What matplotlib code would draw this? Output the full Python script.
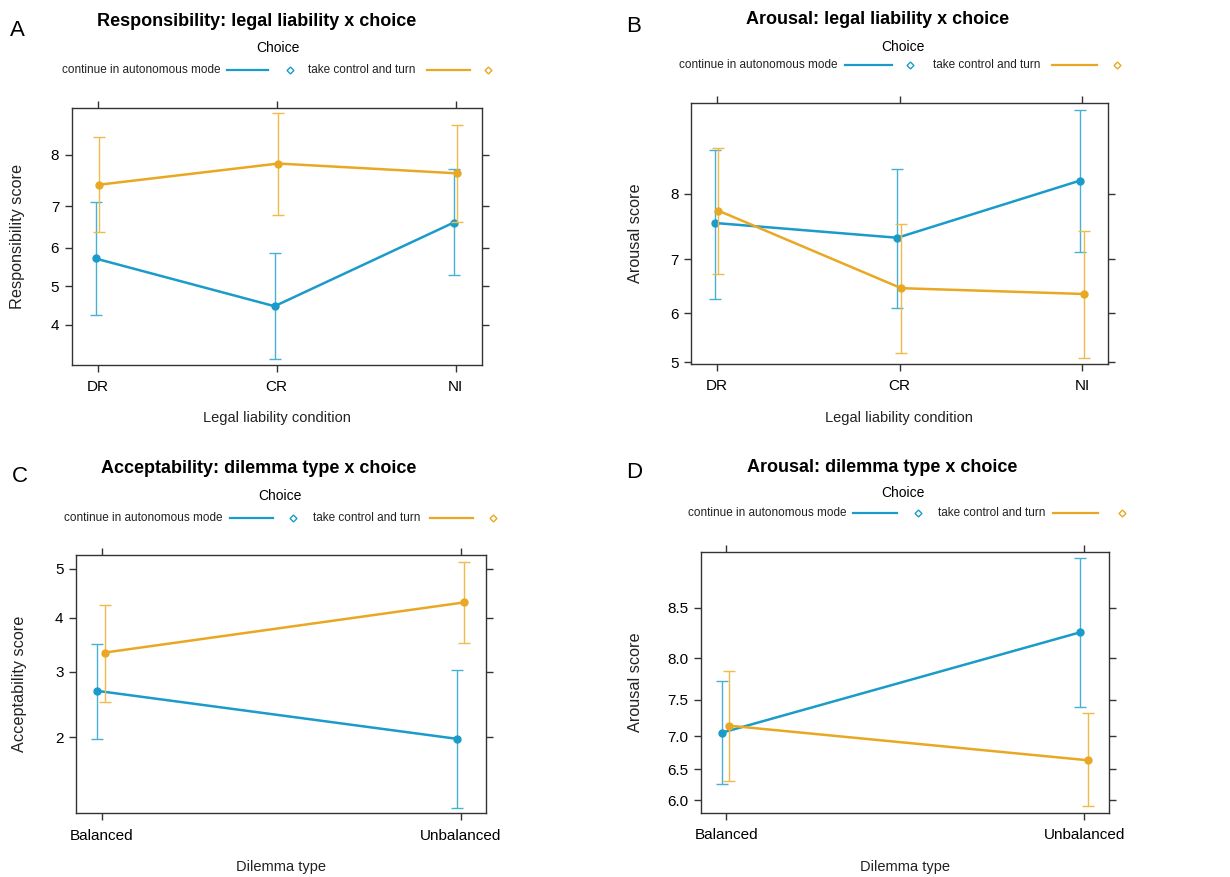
import numpy as np
import matplotlib
matplotlib.use("Agg")
import matplotlib.pyplot as plt
from matplotlib.lines import Line2D

plt.rcParams['font.family'] = ['Liberation Sans', 'DejaVu Sans']

W, H = 1230, 877

choices = ["continue in autonomous mode", "take control and turn"]
liability = ["DR", "CR", "NI"]
dilemma = ["Balanced", "Unbalanced"]

# A: responsibility by legal liability
resp_auto = [5.73, 4.48, 6.62]
resp_auto_lo = [4.26, 3.18, 5.31]
resp_auto_hi = [7.08, 5.86, 7.75]
resp_take = [7.45, 7.85, 7.67]
resp_take_lo = [6.40, 6.79, 6.64]
resp_take_hi = [8.28, 8.61, 8.46]

# B: arousal by legal liability
arl_auto = [7.59, 7.36, 8.17]
arl_auto_lo = [6.27, 6.09, 7.13]
arl_auto_hi = [8.52, 8.31, 8.89]
arl_take = [7.77, 6.48, 6.37]
arl_take_lo = [6.75, 5.20, 5.09]
arl_take_hi = [8.54, 7.58, 7.47]

# C: acceptability by dilemma type
acc_auto = [2.68, 1.98]
acc_auto_lo = [1.98, 1.23]
acc_auto_hi = [3.50, 3.03]
acc_take = [3.34, 4.31]
acc_take_lo = [2.50, 3.52]
acc_take_hi = [4.26, 5.14]

# D: arousal by dilemma type
ard_auto = [7.05, 8.27]
ard_auto_lo = [6.26, 7.40]
ard_auto_hi = [7.73, 8.89]
ard_take = [7.15, 6.64]
ard_take_lo = [6.31, 5.91]
ard_take_hi = [7.85, 7.32]

BLUE = '#1b9bc9'
ORANGE = '#e9a823'
BLUE_BAR = '#4aafd4'
ORANGE_BAR = '#efbc4c'
AX_COL = '#333333'


# effects-style logit axis on a 0-10 response
def fwd(y):
    y = np.clip(np.asarray(y, dtype=float), 1e-6, 10 - 1e-6)
    return np.log(y / (10 - y))


def inv(t):
    return 10 / (1 + np.exp(-np.asarray(t, dtype=float)))


def fpos(x, y):
    return x / W, 1 - y / H


def draw_panel(ax, cats, series, ylim, yticks, ylabels, xlim, ylabel, xlabel, ylab_x, xlab_y, box):
    x = np.arange(1, len(cats) + 1)
    for (mean, lo, hi), col, bcol, dx in zip(series, [BLUE, ORANGE], [BLUE_BAR, ORANGE_BAR], [-0.012, 0.009]):
        xs = x + dx
        err = [np.subtract(mean, lo), np.subtract(hi, mean)]
        ax.errorbar(xs, mean, yerr=err, fmt='none', ecolor=bcol, elinewidth=1.0,
                    capsize=4, capthick=1.0)
        ax.plot(xs, mean, color=col, lw=1.8, marker='o', ms=5, mfc=col, mec=col)
    ax.set_yscale('function', functions=(fwd, inv))
    ax.set_ylim(*ylim)
    ax.set_xlim(*xlim)
    ax.set_yticks(yticks)
    ax.set_yticklabels(ylabels)
    ax.set_xticks(x)
    ax.set_xticklabels(cats)
    ax.minorticks_off()
    ax.tick_params(axis='both', direction='out', length=5, width=1, color=AX_COL,
                   labelsize=11, top=True, right=True, labeltop=False, labelright=False)
    ax.tick_params(axis='y', pad=4)
    ax.tick_params(axis='x', pad=6)
    for s in ax.spines.values():
        s.set_color(AX_COL)
        s.set_linewidth(1)
    left, top, right, bottom = box
    ax.set_ylabel(ylabel, fontsize=11.7, color='#222222')
    ax.set_xlabel(xlabel, fontsize=10.5, color='#222222')
    ax.yaxis.set_label_coords((ylab_x - left) / (right - left), 0.5)
    ax.xaxis.set_label_coords(0.5, (bottom - xlab_y) / (bottom - top))
    ax.yaxis.label.set_va('center')
    ax.xaxis.label.set_va('center')


def header(fig, letter, lpos, title, tpos, cpos, ly, items):
    fig.text(*fpos(*lpos), letter, fontsize=16, ha='center', va='center')
    fig.text(*fpos(*tpos), title, fontsize=13, weight='bold', ha='center', va='center')
    fig.text(*fpos(*cpos), 'Choice', fontsize=10, ha='center', va='center')
    yy = 1 - ly / H
    for label, (tx, x0, x1, mx), col in zip(choices, items, [BLUE, ORANGE]):
        fig.text(tx / W, yy, label, fontsize=8.5, ha='right', va='center', color='#222222')
        fig.add_artist(Line2D([x0 / W, x1 / W], [yy, yy], color=col, lw=1.6))
        fig.add_artist(Line2D([mx / W], [yy], marker='D', ms=3.5, mfc='none', mec=col,
                              mew=1, linestyle='none'))


def add_axes(fig, box):
    left, top, right, bottom = box
    return fig.add_axes([left / W, 1 - bottom / H, (right - left) / W, (bottom - top) / H])


fig = plt.figure(figsize=(W / 100, H / 100), dpi=100)

boxA = (71.7, 107.7, 481.7, 365)
boxB = (691, 103.3, 1107.7, 364)
boxC = (76, 555, 486, 813.3)
boxD = (701, 551.7, 1109, 812.7)

axA = add_axes(fig, boxA)
draw_panel(axA, liability,
           [(resp_auto, resp_auto_lo, resp_auto_hi), (resp_take, resp_take_lo, resp_take_hi)],
           (3.04, 8.68), [4, 5, 6, 7, 8], ['4', '5', '6', '7', '8'], (0.855, 3.145),
           'Responsibility score', 'Legal liability condition', 18, 418, boxA)

axB = add_axes(fig, boxB)
draw_panel(axB, liability,
           [(arl_auto, arl_auto_lo, arl_auto_hi), (arl_take, arl_take_lo, arl_take_hi)],
           (4.965, 8.94), [5, 6, 7, 8], ['5', '6', '7', '8'], (0.859, 3.139),
           'Arousal score', 'Legal liability condition', 635, 418, boxB)

axC = add_axes(fig, boxC)
draw_panel(axC, dilemma,
           [(acc_auto, acc_auto_lo, acc_auto_hi), (acc_take, acc_take_lo, acc_take_hi)],
           (1.18, 5.28), [2, 3, 4, 5], ['2', '3', '4', '5'], (0.929, 2.07),
           'Acceptability score', 'Dilemma type', 20, 867, boxC)

axD = add_axes(fig, boxD)
draw_panel(axD, dilemma,
           [(ard_auto, ard_auto_lo, ard_auto_hi), (ard_take, ard_take_lo, ard_take_hi)],
           (5.79, 8.93), [6.0, 6.5, 7.0, 7.5, 8.0, 8.5],
           ['6.0', '6.5', '7.0', '7.5', '8.0', '8.5'], (0.930, 2.069),
           'Arousal score', 'Dilemma type', 636, 867, boxD)

header(fig, 'A', (17, 30), 'Responsibility: legal liability x choice', (257, 22), (278, 48), 70,
       [(220, 227, 268, 290), (415, 427, 470, 488)])
header(fig, 'B', (634, 27), 'Arousal: legal liability x choice', (878, 20), (903, 47), 65,
       [(837, 845, 892, 910), (1040, 1052, 1097, 1117)])
header(fig, 'C', (20, 476), 'Acceptability: dilemma type x choice', (259, 469), (280, 496), 518,
       [(223, 230, 273, 293), (420, 430, 473, 493)])
header(fig, 'D', (634, 472), 'Arousal: dilemma type x choice', (882, 467), (903, 493), 513,
       [(847, 853, 897, 918), (1045, 1053, 1098, 1122)])

fig.savefig('out.png', dpi=100)
